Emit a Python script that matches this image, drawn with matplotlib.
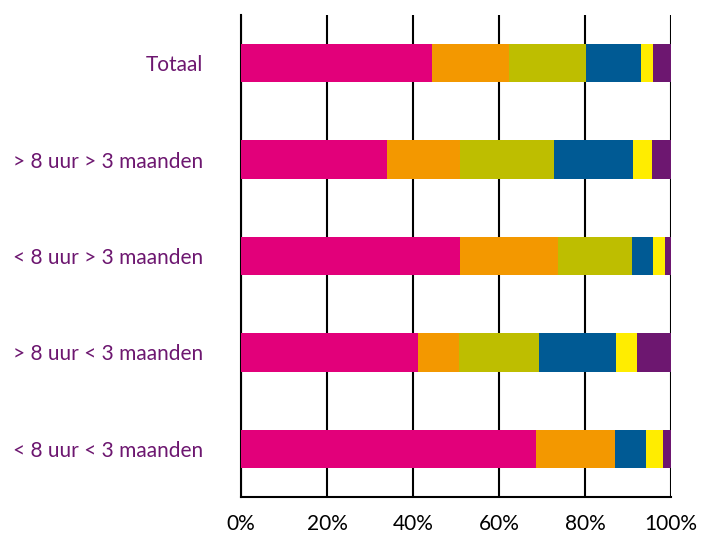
import numpy as np
import matplotlib.pyplot as plt

plt.rcParams['font.family'] = ['Lato', 'DejaVu Sans']

categories = ['< 8 uur < 3 maanden', '> 8 uur < 3 maanden', '< 8 uur > 3 maanden',
              '> 8 uur > 3 maanden', 'Totaal']

# shares per segment (%), same order as categories
pink = [68.5, 41.1, 51.0, 33.9, 44.5]
orange = [18.4, 9.7, 22.8, 17.0, 17.8]
olive = [0.0, 18.4, 17.1, 21.8, 17.9]
blue = [7.4, 17.9, 5.0, 18.4, 12.8]
yellow = [3.9, 5.1, 2.6, 4.4, 2.8]
purple = [1.8, 7.8, 1.5, 4.5, 4.2]

series = [pink, orange, olive, blue, yellow, purple]
colors = ['#E2007A', '#F39800', '#BEBE00', '#005A94', '#FFED00', '#6D1770']

xticks = [0, 20, 40, 60, 80, 100]
xticklabels = ['0%', '20%', '40%', '60%', '80%', '100%']

fig = plt.figure(figsize=(7.01, 5.35), dpi=100)
ax = fig.add_axes([241 / 701, 38 / 535, 430 / 701, 482 / 535])

y = np.arange(len(categories))
left = np.zeros(len(categories))
for vals, c in zip(series, colors):
    ax.barh(y, vals, left=left, height=0.4, color=c, zorder=3)
    left += np.array(vals)

ax.set_xlim(0, 100)
ax.set_ylim(-0.5, len(categories) - 0.5)
ax.set_xticks(xticks)
ax.set_xticklabels(xticklabels, fontsize=15)
ax.set_yticks(y)
ax.set_yticklabels(categories, fontsize=15, color='#6D1770')

ax.grid(axis='x', color='black', linewidth=1.5, zorder=0)
ax.tick_params(axis='both', length=0)
ax.tick_params(axis='x', pad=12)
ax.tick_params(axis='y', pad=27)

for s in ['top', 'right']:
    ax.spines[s].set_visible(False)
ax.spines['left'].set_linewidth(1.5)
ax.spines['bottom'].set_linewidth(1.5)

fig.savefig('out.png', dpi=100)
